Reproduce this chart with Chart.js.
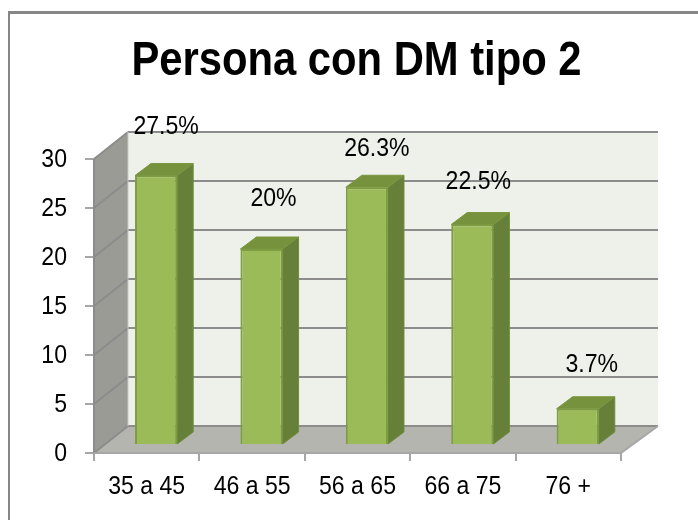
<!DOCTYPE html>
<html><head><meta charset="utf-8">
<style>html,body{margin:0;padding:0;background:#fff}#w{position:relative;width:698px;height:520px}</style>
<script src="https://cdn.jsdelivr.net/npm/chart.js@4"></script></head>
<body><div id="w"><canvas id="c" width="698" height="520"></canvas></div>
<script>
const categories = ["35 a 45","46 a 55","56 a 65","66 a 75","76 +"];
const values = [27.5,20,26.3,22.5,3.7];
const valueLabels = ["27.5%","20%","26.3%","22.5%","3.7%"];
const yTicks = [0,5,10,15,20,25,30];
const titleText = "Persona con DM tipo 2";
const FAMILY = '"Liberation Sans",Arial,sans-serif';
const NARROW = 0.87;
const DX=34, RDX=37, DY=-27, BDX=16, BDY=-12, SHX=9.4, SHY=-8;

function poly(ctx,pts,fill,stroke){ctx.beginPath();pts.forEach((p,i)=>i?ctx.lineTo(p[0],p[1]):ctx.moveTo(p[0],p[1]));ctx.closePath();ctx.fillStyle=fill;ctx.fill();if(stroke){ctx.strokeStyle=stroke;ctx.lineWidth=1;ctx.stroke();}}
function seg(ctx,a,b,col,w){ctx.beginPath();ctx.moveTo(a[0],a[1]);ctx.lineTo(b[0],b[1]);ctx.strokeStyle=col;ctx.lineWidth=w;ctx.stroke();}

const ctx0=document.getElementById('c').getContext('2d');
const origFill=ctx0.fillText.bind(ctx0);
ctx0.fillText=function(t,x,y,m){ctx0.save();ctx0.translate(x,y+(ctx0.textBaseline==='middle'?1:0));ctx0.scale(NARROW,1);
  if(m===undefined)origFill(t,0,0);else origFill(t,0,0,m/NARROW);ctx0.restore();};

const plugin3d={id:'p3d',
 afterLayout(chart,args,opts){chart.titleBlock.left+=opts.titleShift;},
 beforeDraw(chart){
  const {ctx}=chart;ctx.save();
  seg(ctx,[9,11],[9,520],'#868686',2);
  seg(ctx,[8,12.5],[698,12.5],'#868686',3);
  ctx.restore();
 },
 beforeDatasetsDraw(chart){
  const {ctx,chartArea:a,scales:{y}}=chart;
  const L=a.left,R=a.right,T=y.getPixelForValue(30),B=y.getPixelForValue(0);
  ctx.save();
  poly(ctx,[[L+DX,T+DY],[R+RDX,T+DY],[R+RDX,B+DY],[L+DX,B+DY]],'#eef1ea');
  poly(ctx,[[L,T],[L+DX,T+DY],[L+DX,B+DY],[L,B]],'#999b94');
  poly(ctx,[[L,B],[L+DX,B+DY],[R+RDX,B+DY],[R,B]],'#b3b5ae');
  yTicks.forEach(v=>{const p=y.getPixelForValue(v);
    seg(ctx,[L+DX,p+DY],[R+RDX,p+DY],'#8c8c8c',2);
    seg(ctx,[L,p],[L+DX,p+DY],'#8c8c8c',2);});
  seg(ctx,[L,T],[L,B],'#8c8c8c',2);
  seg(ctx,[L+DX,T+DY],[L+DX,B+DY],'#c8c9c4',1);
  seg(ctx,[L,B],[R,B],'#a6a6a6',2);
  seg(ctx,[R,B],[R+RDX,B+DY],'#a6a6a6',2);
  ctx.restore();
 },
 beforeDatasetDraw(chart,args){
  const {ctx}=chart;
  const meta=args.meta;
  ctx.save();
  meta.data.forEach(el=>{const l=el.x-el.width/2+SHX,r=el.x+el.width/2+SHX,t=el.y+SHY,b=el.base+SHY;
    poly(ctx,[[r,t],[r+BDX,t+BDY],[r+BDX,b+BDY],[r,b]],'#66803a','#6f8c3c');
    poly(ctx,[[l,t],[l+BDX,t+BDY],[r+BDX,t+BDY],[r,t]],'#76923c','#7a9740');
  });
  ctx.restore();
  ctx.save();ctx.translate(SHX,SHY);
 },
 afterDatasetDraw(chart){chart.ctx.restore();},
 afterDatasetsDraw(chart,args,opts){
  const {ctx}=chart;const meta=chart.getDatasetMeta(0);
  ctx.save();ctx.font='26.5px '+FAMILY;ctx.fillStyle='#000';ctx.textAlign='center';ctx.textBaseline='alphabetic';
  meta.data.forEach((el,i)=>{const o=opts.labelOffsets[i];ctx.fillText(valueLabels[i],el.x+SHX+o[0],el.y+SHY+o[1]);});
  ctx.restore();
 }
};

new Chart(document.getElementById('c'),{
 type:'bar',
 data:{labels:categories,datasets:[{data:values,backgroundColor:'#9bbb59',borderColor:'#7e9d40',borderWidth:2,barPercentage:0.4,categoryPercentage:1}]},
 plugins:[plugin3d],
 options:{
  responsive:false,animation:false,
  layout:{padding:{left:0,right:77,top:0,bottom:0}},
  plugins:{legend:{display:false},tooltip:{enabled:false},
   p3d:{titleShift:92,labelOffsets:[[10,-41.5],[12,-43],[10,-31],[6,-35.5],[14,-37]]},
   title:{display:true,text:titleText,color:'#000',font:{family:FAMILY,size:48,weight:'bold'},padding:{top:32,bottom:69.4}}},
  scales:{
   x:{offset:true,afterFit(s){s.height=67;},grid:{display:true,drawOnChartArea:false,color:'#a6a6a6',lineWidth:2,tickLength:8,offset:true},border:{display:false},
      ticks:{color:'#000',font:{family:FAMILY,size:26.5},maxRotation:0,padding:9}},
   y:{min:0,max:30,afterFit(s){s.width=94;},grid:{drawOnChartArea:false,color:'#a6a6a6',lineWidth:2,tickLength:9},border:{display:false},
      ticks:{stepSize:5,color:'#000',font:{family:FAMILY,size:26.5},padding:18}}
  }
 }
});
</script></body></html>
